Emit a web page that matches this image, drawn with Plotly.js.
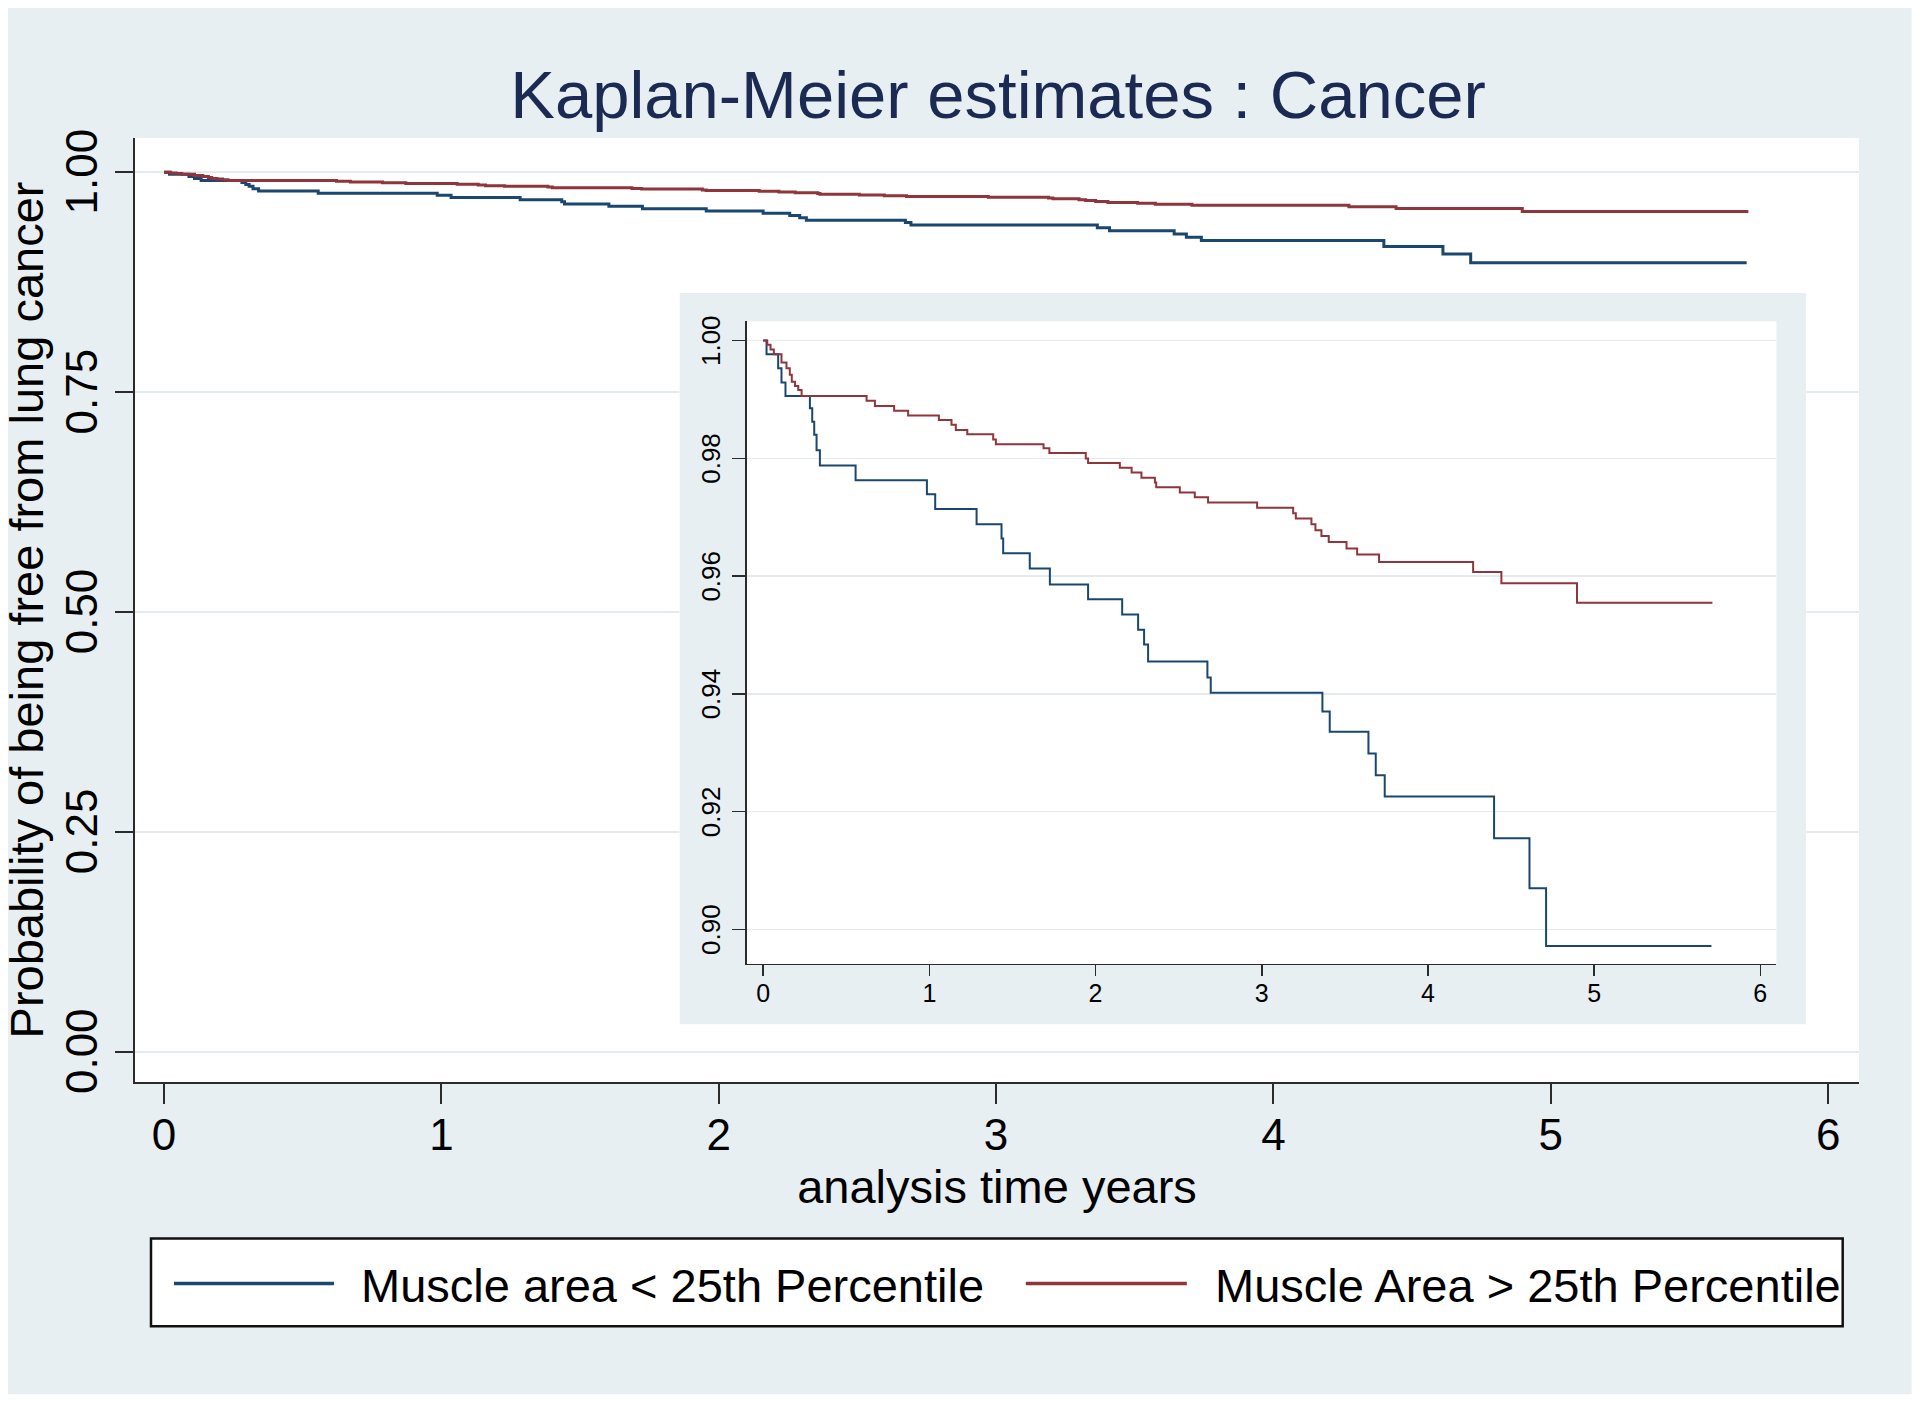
<!DOCTYPE html>
<html>
<head>
<meta charset="utf-8">
<script src="https://cdn.plot.ly/plotly-3.0.1.min.js"></script>
<style>
html,body{margin:0;padding:0;background:#ffffff;}
#chart{width:1920px;height:1403px;}
</style>
</head>
<body>
<div id="chart"></div>
<script>
// ---- Data ----
const blueTime = [0, 0.02, 0.09, 0.11, 0.134, 0.281, 0.295, 0.307, 0.321, 0.341, 0.556, 0.985, 1.035, 1.284, 1.434, 1.444, 1.604, 1.725, 1.955, 2.160, 2.256, 2.292, 2.316, 2.673, 2.693, 3.365, 3.409, 3.642, 3.686, 3.740, 4.398, 4.611, 4.711, 5.706];
const blueSurv = [1, 0.9977, 0.9953, 0.9929, 0.9906, 0.9885, 0.9862, 0.9840, 0.9814, 0.9788, 0.9763, 0.9739, 0.9714, 0.9688, 0.9664, 0.9639, 0.9613, 0.9586, 0.9561, 0.9535, 0.9509, 0.9484, 0.9455, 0.9428, 0.9402, 0.9370, 0.9336, 0.9299, 0.9262, 0.9226, 0.9155, 0.9070, 0.8972, 0.8972];
const redTime = [0, 0.024, 0.044, 0.064, 0.110, 0.140, 0.160, 0.172, 0.191, 0.211, 0.231, 0.622, 0.672, 0.788, 0.872, 1.057, 1.133, 1.159, 1.228, 1.384, 1.400, 1.687, 1.722, 1.941, 1.955, 2.146, 2.217, 2.276, 2.357, 2.365, 2.507, 2.597, 2.677, 2.972, 3.189, 3.205, 3.299, 3.323, 3.359, 3.403, 3.510, 3.574, 3.706, 4.272, 4.442, 4.897, 5.712];
const redSurv = [1, 0.9993, 0.9985, 0.9977, 0.9963, 0.9953, 0.9942, 0.9930, 0.9923, 0.9916, 0.9906, 0.9898, 0.9889, 0.9881, 0.9873, 0.9865, 0.9857, 0.9848, 0.9841, 0.9832, 0.9824, 0.9817, 0.9809, 0.9800, 0.9792, 0.9784, 0.9776, 0.9767, 0.9759, 0.9751, 0.9742, 0.9734, 0.9725, 0.9716, 0.9707, 0.9698, 0.9688, 0.9678, 0.9668, 0.9658, 0.9647, 0.9637, 0.9624, 0.9607, 0.9588, 0.9555, 0.9555];
const seriesNames = ['Muscle area &lt; 25th Percentile', 'Muscle Area &gt; 25th Percentile'];
const seriesColors = ['#1a476f', '#90353b'];
const chartTitle = 'Kaplan-Meier estimates : Cancer';
const xTitle = 'analysis time years';
const yTitle = 'Probability of being free from lung cancer';
const mainXTicks = [0, 1, 2, 3, 4, 5, 6];
const mainYTicks = [0, 0.25, 0.5, 0.75, 1];
const mainYTickText = ['0.00', '0.25', '0.50', '0.75', '1.00'];
const insetXTicks = [0, 1, 2, 3, 4, 5, 6];
const insetYTicks = [0.90, 0.92, 0.94, 0.96, 0.98, 1.00];
const insetYTickText = ['0.90', '0.92', '0.94', '0.96', '0.98', '1.00'];

// ---- Layout geometry ----
const W = 1920, H = 1403;
const M = {l: 135, r: W - 1859.3, t: 138, b: H - 1082.5};
const PW = W - M.l - M.r, PH = H - M.t - M.b;
const px = v => (v - M.l) / PW;
const py = v => (H - M.b - v) / PH;

const FONT = 'Liberation Sans, Arial, Helvetica, sans-serif';
const BG = '#e8eff2';
const GRID = '#e3ebee';
const AX = '#2b2b2b';

const traces = [
  {x: blueTime, y: blueSurv, name: seriesNames[0], mode: 'lines', line: {shape: 'hv', color: seriesColors[0], width: 3}, xaxis: 'x', yaxis: 'y', hoverinfo: 'skip'},
  {x: redTime, y: redSurv, name: seriesNames[1], mode: 'lines', line: {shape: 'hv', color: seriesColors[1], width: 3}, xaxis: 'x', yaxis: 'y', hoverinfo: 'skip'},
  {x: [], y: [], mode: 'lines', xaxis: 'x2', yaxis: 'y2', hoverinfo: 'skip', showlegend: false},
  {x: blueTime, y: blueSurv, name: seriesNames[0], mode: 'lines', line: {shape: 'hv', color: seriesColors[0], width: 2}, xaxis: 'x3', yaxis: 'y3', hoverinfo: 'skip'},
  {x: redTime, y: redSurv, name: seriesNames[1], mode: 'lines', line: {shape: 'hv', color: seriesColors[1], width: 2}, xaxis: 'x3', yaxis: 'y3', hoverinfo: 'skip'}
];

const layout = {
  width: W, height: H,
  margin: {l: M.l, r: M.r, t: M.t, b: M.b, pad: 0},
  paper_bgcolor: BG,
  plot_bgcolor: '#ffffff',
  showlegend: false,
  font: {family: FONT, color: '#000000'},
  title: {
    text: chartTitle,
    font: {family: FONT, size: 67, color: '#1b2a52'},
    x: 998 / W, xref: 'container', xanchor: 'center',
    y: 1 - 95 / H, yref: 'container', yanchor: 'middle'
  },
  xaxis: {
    domain: [0, 1], anchor: 'y',
    range: [-0.1045, 6.111],
    tickmode: 'array', tickvals: mainXTicks,
    ticks: 'outside', ticklen: 20, tickwidth: 2, tickcolor: AX,
    showline: true, linecolor: AX, linewidth: 2,
    showgrid: false, zeroline: false,
    tickfont: {family: FONT, size: 44, color: '#000'},
    ticklabelstandoff: -7,
    title: {text: xTitle, font: {family: FONT, size: 47, color: '#000'}, standoff: 12},
    fixedrange: true
  },
  yaxis: {
    domain: [0, 1], anchor: 'x',
    range: [-0.0343, 1.039],
    tickmode: 'array', tickvals: mainYTicks, ticktext: mainYTickText,
    tickangle: -90,
    ticks: 'outside', ticklen: 18, tickwidth: 2, tickcolor: AX,
    showline: true, linecolor: AX, linewidth: 2,
    showgrid: true, gridcolor: GRID, gridwidth: 2, zeroline: false,
    tickfont: {family: FONT, size: 44, color: '#000'},
    ticklabelstandoff: 0,
    ticklabelshift: 6,
    title: {text: yTitle, font: {family: FONT, size: 47, color: '#000'}, standoff: 22},
    fixedrange: true
  },
  xaxis2: {domain: [px(679.6), px(1806.7)], anchor: 'y2', range: [0, 1], visible: false, fixedrange: true},
  yaxis2: {domain: [py(1025), py(293)], anchor: 'x2', range: [0, 1], visible: false, fixedrange: true},
  xaxis3: {
    domain: [px(746.7), px(1776.7)], anchor: 'y3',
    range: [-0.1, 6.097],
    tickmode: 'array', tickvals: insetXTicks,
    ticks: 'outside', ticklen: 11, tickwidth: 1.5, tickcolor: AX,
    showline: true, linecolor: AX, linewidth: 1.5,
    showgrid: false, zeroline: false,
    tickfont: {family: FONT, size: 25, color: '#000'},
    ticklabelstandoff: -4,
    fixedrange: true
  },
  yaxis3: {
    domain: [py(964.3), py(321.5)], anchor: 'x3',
    range: [0.89417, 1.00326],
    tickmode: 'array', tickvals: insetYTicks, ticktext: insetYTickText,
    tickangle: -90,
    ticks: 'outside', ticklen: 13, tickwidth: 1.5, tickcolor: AX,
    showline: true, linecolor: AX, linewidth: 1.5,
    showgrid: true, gridcolor: GRID, gridwidth: 1.5, zeroline: false,
    tickfont: {family: FONT, size: 26, color: '#000'},
    ticklabelstandoff: 2,
    ticklabelshift: 4,
    fixedrange: true
  },
  shapes: [
    // inset grey frame (drawn inside the frame subplot, covering main gridlines)
    {type: 'rect', xref: 'x2', yref: 'y2', x0: 0, x1: 1, y0: 0, y1: 1, layer: 'below', fillcolor: BG, line: {width: 0}},
    // outer white margin
    {type: 'rect', xref: 'paper', yref: 'paper', x0: px(0), x1: px(W), y0: py(H), y1: py(0), layer: 'above', fillcolor: 'rgba(0,0,0,0)', line: {color: '#ffffff', width: 16}},
    // legend box
    {type: 'rect', xref: 'paper', yref: 'paper', x0: px(151), x1: px(1843), y0: py(1327), y1: py(1239), layer: 'above', fillcolor: '#ffffff', line: {color: '#111111', width: 2.5}},
    // legend keys
    {type: 'line', xref: 'paper', yref: 'paper', x0: px(174), x1: px(334), y0: py(1284), y1: py(1284), layer: 'above', line: {color: seriesColors[0], width: 3.5}},
    {type: 'line', xref: 'paper', yref: 'paper', x0: px(1026), x1: px(1187), y0: py(1284), y1: py(1284), layer: 'above', line: {color: seriesColors[1], width: 3.5}}
  ],
  annotations: [
    {text: seriesNames[0], xref: 'paper', yref: 'paper', x: px(359), y: py(1286), xanchor: 'left', yanchor: 'middle', showarrow: false, font: {family: FONT, size: 47, color: '#000'}},
    {text: seriesNames[1], xref: 'paper', yref: 'paper', x: px(1213), y: py(1286), xanchor: 'left', yanchor: 'middle', showarrow: false, font: {family: FONT, size: 47, color: '#000'}}
  ]
};

Plotly.newPlot('chart', traces, layout, {displayModeBar: false, staticPlot: true});
</script>
</body>
</html>
